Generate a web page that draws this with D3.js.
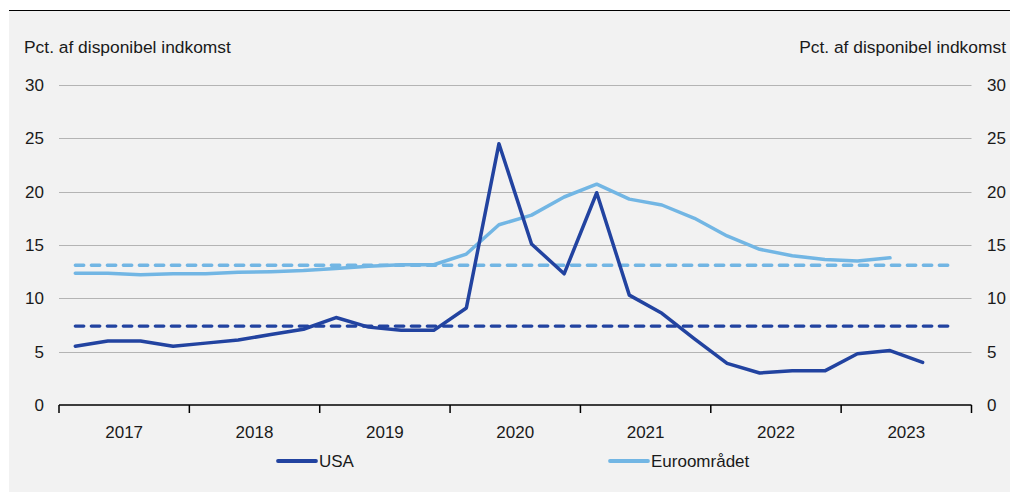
<!DOCTYPE html>
<html><head><meta charset="utf-8">
<script src="https://cdn.jsdelivr.net/npm/d3@7"></script>
<style>
html,body{margin:0;padding:0;background:#fff;}
svg{display:block;font-family:"Liberation Sans",Arial,sans-serif;}
</style></head>
<body>
<svg id="chart" width="1010" height="492"></svg>
<script>
const years = ["2017","2018","2019","2020","2021","2022","2023"];
const usa = [5.5,6.0,6.0,5.5, 5.8,6.1,6.6,7.1, 8.2,7.3,7.0,7.0, 9.1,24.5,15.1,12.3, 19.9,10.3,8.6,6.2, 3.9,3.0,3.2,3.2, 4.8,5.1,4.0];
const euro = [12.35,12.35,12.2,12.3, 12.3,12.45,12.5,12.6, 12.8,13.0,13.15,13.15, 14.15,16.9,17.8,19.5, 20.7,19.3,18.75,17.5, 15.85,14.6,14.0,13.65, 13.5,13.8];
const usaAvg = 7.4;
const euroAvg = 13.1;
const yTicks = [0,5,10,15,20,25,30];
const seriesNames = ["USA","Euroområdet"];
const axisTitle = "Pct. af disponibel indkomst";

const svg = d3.select("#chart");
svg.append("rect").attr("x",9).attr("y",10).attr("width",1001).attr("height",482).attr("fill","#f2f2f2");
svg.append("line").attr("x1",9).attr("x2",1010).attr("y1",10.5).attr("y2",10.5).attr("stroke","#000").attr("stroke-width",1.2);

const L=59, R=971.5, T=85, B=405;
const nQ = years.length*4;
const x = d3.scaleLinear().domain([0,nQ]).range([L,R]);
const y = d3.scaleLinear().domain([0,30]).range([B,T]);
const xq = i => x(i+0.5);

// grid
svg.append("g").selectAll("line").data(yTicks.filter(d=>d>0)).join("line")
  .attr("x1",L).attr("x2",R).attr("y1",d=>Math.round(y(d))+0.5).attr("y2",d=>Math.round(y(d))+0.5)
  .attr("stroke","#b4b4b4").attr("stroke-width",1);

// left / right labels
svg.append("g").selectAll("text").data(yTicks).join("text")
  .attr("x",44).attr("y",d=>y(d)+6).attr("text-anchor","end")
  .attr("font-size",17).attr("fill","#1a1a1a").text(d=>d);
svg.append("g").selectAll("text").data(yTicks).join("text")
  .attr("x",987).attr("y",d=>y(d)+6).attr("text-anchor","start")
  .attr("font-size",17).attr("fill","#1a1a1a").text(d=>d);

svg.append("text").attr("x",24).attr("y",53).attr("font-size",17.4).attr("fill","#1a1a1a").text(axisTitle);
svg.append("text").attr("x",1006).attr("y",53).attr("text-anchor","end").attr("font-size",17.4).attr("fill","#1a1a1a").text(axisTitle);

// x axis
const xa = svg.append("g");
xa.append("line").attr("x1",L).attr("x2",R).attr("y1",B).attr("y2",B).attr("stroke","#000").attr("stroke-width",1.5);
xa.selectAll("line.tk").data(d3.range(years.length+1)).join("line").attr("class","tk")
  .attr("x1",i=>x(i*4)).attr("x2",i=>x(i*4)).attr("y1",B).attr("y2",B+8).attr("stroke","#000").attr("stroke-width",1.5);
xa.selectAll("text").data(years).join("text")
  .attr("x",(d,i)=>x(i*4+2)).attr("y",438).attr("text-anchor","middle")
  .attr("font-size",17).attr("fill","#1a1a1a").text(d=>d);

const cUSA="#2243a0", cEU="#72b6e4";
const line = d3.line().x((d,i)=>xq(i)).y(d=>y(d));

// averages
svg.append("line").attr("x1",xq(0)).attr("x2",xq(nQ-1)).attr("y1",y(euroAvg)).attr("y2",y(euroAvg))
  .attr("stroke",cEU).attr("stroke-width",3.3).attr("stroke-dasharray","8.5,7.5").attr("stroke-linecap","round");
svg.append("line").attr("x1",xq(0)).attr("x2",xq(nQ-1)).attr("y1",y(usaAvg)).attr("y2",y(usaAvg))
  .attr("stroke",cUSA).attr("stroke-width",3.3).attr("stroke-dasharray","8.5,7.5").attr("stroke-linecap","round");

svg.append("path").datum(euro).attr("d",line).attr("fill","none").attr("stroke",cEU).attr("stroke-width",3.5).attr("stroke-linejoin","round").attr("stroke-linecap","round");
svg.append("path").datum(usa).attr("d",line).attr("fill","none").attr("stroke",cUSA).attr("stroke-width",3.5).attr("stroke-linejoin","round").attr("stroke-linecap","round");

// legend
const leg = [{n:seriesNames[0],c:cUSA,x:278},{n:seriesNames[1],c:cEU,x:610}];
const lg = svg.append("g");
leg.forEach(d=>{
  lg.append("line").attr("x1",d.x).attr("x2",d.x+38).attr("y1",461).attr("y2",461).attr("stroke",d.c).attr("stroke-width",3.8).attr("stroke-linecap","round");
  lg.append("text").attr("x",d.x+41).attr("y",467).attr("font-size",17).attr("fill","#1a1a1a").text(d.n);
});
</script>
</body></html>
